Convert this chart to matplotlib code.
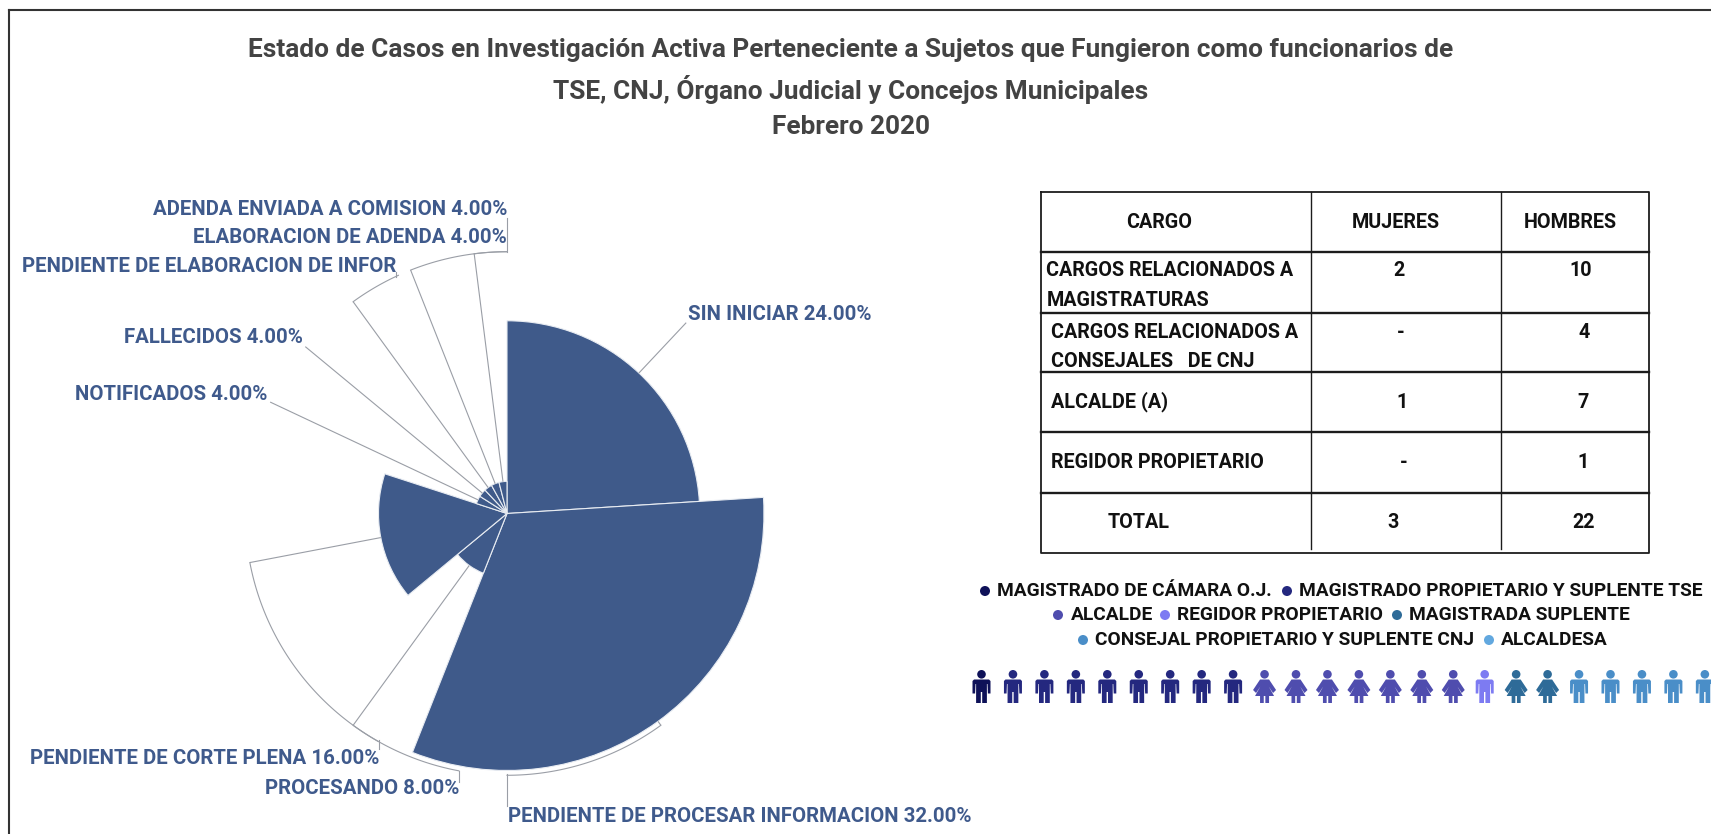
import numpy as np
import matplotlib
matplotlib.use('Agg')
import matplotlib.pyplot as plt
from matplotlib.patches import Circle, Polygon

W, H = 1711, 834
# ---- data ----
estados = ['SIN INICIAR', 'PENDIENTE DE PROCESAR INFORMACION', 'PROCESANDO',
           'PENDIENTE DE CORTE PLENA', 'NOTIFICADOS', 'FALLECIDOS',
           'PENDIENTE DE ELABORACION DE INFOR', 'ELABORACION DE ADENDA',
           'ADENDA ENVIADA A COMISION']
porcentajes = [24, 32, 8, 16, 4, 4, 4, 4, 4]
mostrar_pct = [True, True, True, True, True, True, False, True, True]

cargos = ['CARGOS RELACIONADOS A\nMAGISTRATURAS', 'CARGOS RELACIONADOS A\nCONSEJALES   DE CNJ',
          'ALCALDE (A)', 'REGIDOR PROPIETARIO', 'TOTAL']
mujeres = ['2', '-', '1', '-', '3']
hombres = ['10', '4', '7', '1', '22']

grupos = ['MAGISTRADO DE CÁMARA O.J.', 'MAGISTRADO PROPIETARIO Y SUPLENTE TSE', 'ALCALDE',
          'REGIDOR PROPIETARIO', 'MAGISTRADA SUPLENTE', 'CONSEJAL PROPIETARIO Y SUPLENTE CNJ', 'ALCALDESA']
grupo_n = [1, 8, 7, 1, 2, 5, 1]
grupo_mujer = [False, False, True, False, True, False, True]
grupo_col = ['#0E1158', '#24287F', '#4F4DAE', '#7D7BF2', '#2E6B98', '#4A8EC8', '#62A8DF']

titulo = ['Estado de Casos en Investigación Activa Perteneciente a Sujetos que Fungieron como funcionarios de',
          'TSE, CNJ, Órgano Judicial y Concejos Municipales', 'Febrero 2020']

BLUE = '#3F5A8A'
LBL = '#3F5A8C'
LINE = '#9A9EA6'

fig = plt.figure(figsize=(W / 100, H / 100), dpi=100, facecolor='white')
ov = fig.add_axes([0, 0, 1, 1])
ov.set_xlim(0, W)
ov.set_ylim(H, 0)
ov.axis('off')

# frame
ov.plot([9, 9], [10, H], color='#333333', lw=1.5)
ov.plot([9, W], [10, 10], color='#333333', lw=1.5)

# title
for y, t in zip([50, 89, 127], titulo):
    ov.text(851, y, t, ha='center', va='center', family='Roboto', weight='bold',
            fontsize=18.9, color='#434343')

# rose chart on polar axes
cx, cy, ppu = 507.0, 513.5, 8.03
rmax = 34.0
R = rmax * ppu
pol = fig.add_axes([(cx - R) / W, 1 - (cy + R) / H, 2 * R / W, 2 * R / H], projection='polar')
pol.set_theta_zero_location('N')
pol.set_theta_direction(-1)
pol.set_ylim(0, rmax)
pol.axis('off')
pol.patch.set_alpha(0)

vals = np.array(porcentajes, float)
ancho = vals / vals.sum() * 2 * np.pi
inicio = np.concatenate([[0], np.cumsum(ancho)[:-1]])
medio = inicio + ancho / 2
pol.bar(inicio, vals, width=ancho, align='edge', color=BLUE, edgecolor='#E8ECF2', linewidth=0.8)

# leader lines: radial to the outer ring, then along the ring (end angle in degrees)
ring = 32.6
fin_arco = [None, 180.0, 190.6, 209.6, None, None, 335.5, 360.0, 360.0]
for m, v, fa in zip(medio, vals, fin_arco):
    pol.plot([m, m], [v, ring], color=LINE, lw=0.8, solid_capstyle='butt', clip_on=False)
    if fa is not None:
        th = np.linspace(m, np.deg2rad(fa), 60)
        pol.plot(th, np.full_like(th, ring), color=LINE, lw=0.8, clip_on=False)

# connectors to labels
for x, y0, y1 in [(507, 774, 806), (459, 771, 782), (379, 740, 749), (396, 277, 272), (507, 252, 218)]:
    ov.plot([x, x], [y0, y1], color=LINE, lw=0.8)

# labels
pos = [(688, 314, 'left'), (508, 817, 'left'), (459, 788, 'right'), (379, 759, 'right'),
       (267, 394, 'right'), (303, 337, 'right'), (396, 267, 'right'), (507, 237, 'right'), (507, 209, 'right')]
for e, p, s, (x, y, ha) in zip(estados, porcentajes, mostrar_pct, pos):
    txt = f'{e} {p:.2f}%' if s else e
    ov.text(x, y, txt, ha=ha, va='center', family='Roboto', weight='bold', fontsize=14.7, color=LBL)

# table
TL = '#1c1c1c'
ys = [192, 252, 313, 372, 432, 493, 553]
ov.plot([1041, 1649, 1649, 1041, 1041], [192, 192, 553, 553, 192], color=TL, lw=1.3)
for y in ys[1:-1]:
    ov.plot([1041, 1649], [y, y], color=TL, lw=1.7)
ov.plot([1311, 1311], [192, 549], color=TL, lw=1.0)
ov.plot([1501, 1501], [192, 549], color=TL, lw=1.0)
TK = dict(family='Roboto', weight='bold', fontsize=14.2, color='#111111', va='center')
ov.text(1159, 222, 'CARGO', ha='center', **TK)
ov.text(1396, 222, 'MUJERES', ha='center', **TK)
ov.text(1570, 222, 'HOMBRES', ha='center', **TK)
row_y = [271, 332, 402, 462, 523]
row_y2 = 29.5
row_x = [1046.5, 1051, 1051.5, 1051.5, 1107.5]
row_m = [1399, 1401, 1402, 1404, 1393]
row_h = [1581, 1584, 1583, 1583, 1584]
for c, m, h, y, x, xm, xh in zip(cargos, mujeres, hombres, row_y, row_x, row_m, row_h):
    for k, part in enumerate(c.split('\n')):
        ov.text(x, y + k * row_y2, part, ha='left', **TK)
    ov.text(xm, y, m, ha='center', **TK)
    ov.text(xh, y, h, ha='center', **TK)

# legend
LK = dict(family='Roboto', weight='bold', fontsize=13.8, color='#111111', va='center', ha='left')
ley = [(985, 997, 591), (1287, 1299, 591), (1058, 1071, 615), (1165, 1177, 615),
       (1397, 1409, 615), (1083, 1095, 640), (1489, 1501, 640)]
for g, col, (bx, tx, y) in zip(grupos, grupo_col, ley):
    ov.add_patch(Circle((bx, y), 5.0, color=col, lw=0))
    ov.text(tx, y, g, **LK)

# pictogram
def persona(x, col, mujer):
    top = 670
    ov.add_patch(Circle((x, top + 4.3), 4.3, color=col, lw=0))
    if mujer:
        pts = [(-4.5, 9.5), (4.5, 9.5), (11.5, 20), (8.5, 23), (4.2, 16.5), (9.5, 26), (4.5, 26), (4.5, 33),
               (0.8, 33), (0.8, 26), (-0.8, 26), (-0.8, 33), (-4.5, 33), (-4.5, 26), (-9.5, 26), (-4.2, 16.5), (-8.5, 23), (-11.5, 20)]
    else:
        pts = [(-7.5, 9.5), (7.5, 9.5), (9, 11), (9, 23.5), (6.4, 23.5), (6, 14), (5.4, 14), (5.4, 33),
               (0.7, 33), (0.7, 22), (-0.7, 22), (-0.7, 33), (-5.4, 33), (-5.4, 14), (-6, 14), (-6.4, 23.5), (-9, 23.5), (-9, 11)]
    ov.add_patch(Polygon([(x + a, top + b) for a, b in pts], closed=True, facecolor=col, edgecolor='none'))

i = 0
for n, col, mj in zip(grupo_n, grupo_col, grupo_mujer):
    for _ in range(n):
        persona(981.5 + 31.45 * i, col, mj and i < 24)
        i += 1

fig.savefig('out.png', dpi=100, facecolor='white')
